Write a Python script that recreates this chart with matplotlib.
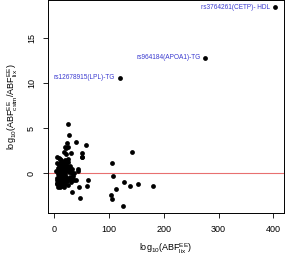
import matplotlib
matplotlib.use("Agg")
import matplotlib.pyplot as plt

plt.rcParams['font.family'] = ['Liberation Sans', 'DejaVu Sans']

# labelled SNPs
lab_x = [403, 276, 120]
lab_y = [18.4, 12.8, 10.6]
lab_txt = ['rs3764261(CETP)- HDL', 'rs964184(APOA1)-TG', 'rs12678915(LPL)-TG']

# remaining points
pt_x = [25, 27.5, 23, 39, 58, 24, 20.5, 19, 29.6, 20.5, 18, 49.7, 50.3, 142,
        105.7, 107.5, 127.7, 113, 138.6, 152, 181, 103, 104.5, 125,
        43.5, 42.4, 30.7, 38.7, 60.7, 44.2, 60, 31.4, 46.6, 51, 4, 10, 19,
        25, 8, 11.3, 33,
        3, 4, 5, 5, 6, 6, 7, 7, 8, 8, 9, 9, 10, 10, 11, 11, 12, 12, 13, 13,
        14, 14, 15, 15, 16, 16, 17, 17, 18, 18, 19, 19, 20, 20, 21, 22, 22,
        23, 24, 25, 26, 27, 28, 30, 32, 34, 36, 5, 8, 11, 14, 17, 20, 23, 6,
        9, 12, 15, 18, 21, 4, 7, 10, 13, 16, 19, 24, 28, 33, 35, 29, 26, 12]
pt_y = [5.5, 4.2, 3.4, 3.5, 3.1, 2.9, 2.85, 2.9, 2.2, 2.1, 2.3, 2.2, 1.8, 2.3,
        1.1, -0.3, -1.0, -1.7, -1.4, -1.2, -1.45, -2.45, -2.85, -3.65,
        0.5, 0.25, 0.1, -0.7, -0.75, -1.5, -1.45, -2.1, -2.75, 1.8, 1.8, 1.6, 1.45,
        1.55, 1.7, 1.5, 0.0,
        0.3, -0.5, 1.1, -1.2, 0.6, -0.9, 0.2, -1.5, 1.0, -0.3, 0.5, -1.1, 0.9, -0.6,
        0.1, -1.4, 0.7, -0.2, 1.2, -0.8, 0.4, -1.3, 0.8, -0.4, 1.0, -1.0, 0.2, -1.55,
        0.6, -0.7, 1.1, -0.1, 0.3, -1.2, 0.7, -0.5, 0.9, -0.9, 0.4, -1.3, 0.1,
        -0.6, 0.8, -1.0, 0.5, -0.3, 0.0, -1.1, 0.9, 0.6, -0.2, 0.0, 0.4, 0.8,
        -0.1, 0.1, 1.3, -1.4, -0.8, -0.4, -0.7, -1.0, -1.5, -0.2, -1.3, 0.2, 1.2,
        0.6, -0.6, -0.8, -0.4, 0.3, -1.0]

fig = plt.figure(figsize=(2.85, 2.6), dpi=100)
ax = fig.add_axes([0.168, 0.181, 0.829, 0.819])

ax.axhline(0, color='#e87070', lw=0.8, zorder=1)
ax.scatter(pt_x, pt_y, s=12, color='black', lw=0, zorder=2)
ax.scatter(lab_x, lab_y, s=12, color='black', lw=0, zorder=2)
for x, y, t in zip(lab_x, lab_y, lab_txt):
    ax.annotate(t, (x, y), xytext=(-3.5, 0), textcoords='offset points',
                ha='right', va='center', fontsize=4.7, color='#3a3ad0')

ax.set_xlim(-12, 420)
ax.set_ylim(-4.4, 19.2)
ax.set_xticks([0, 100, 200, 300, 400])
ax.set_yticks([0, 5, 10, 15])
ax.tick_params(direction='out', length=3.5, width=0.6, labelsize=6.5, pad=5)
for lbl in ax.get_yticklabels():
    lbl.set_rotation(90)
    lbl.set_va('center')
for s in ax.spines.values():
    s.set_linewidth(0.7)

ax.set_xlabel(r'$\mathregular{log_{10}(ABF^{EE}_{lix})}$', fontsize=6.5, labelpad=6)
ax.set_ylabel(r'$\mathregular{log_{10}(ABF^{EE}_{cstm}/ABF^{EE}_{lix})}$',
              fontsize=6.5, labelpad=5)

fig.savefig('out.png', dpi=100)
